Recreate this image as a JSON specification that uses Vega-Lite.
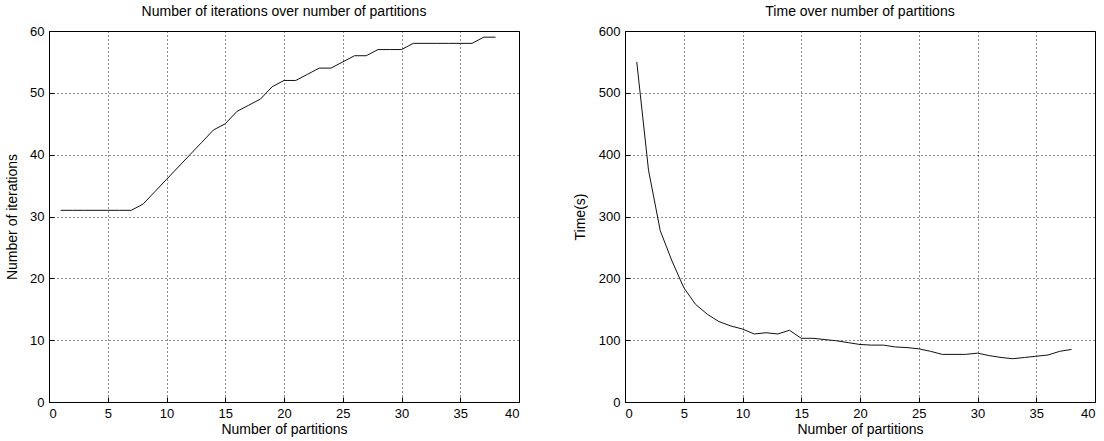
{
  "$schema": "https://vega.github.io/schema/vega-lite/v6.json",
  "background": "white",
  "padding": {"left": 5, "top": 4, "right": 5, "bottom": 5},
  "spacing": 52,
  "config": {
    "font": "Liberation Sans",
    "view": {"stroke": "black", "strokeWidth": 1},
    "axis": {
      "grid": true,
      "gridColor": "black",
      "gridDash": [1, 3],
      "gridOpacity": 0.9,
      "domain": false,
      "ticks": true,
      "tickColor": "black",
      "tickSize": -5,
      "labelPadding": 10,
      "labelFontSize": 13,
      "labelColor": "black",
      "titleFontSize": 14,
      "titleFontWeight": "normal",
      "titleColor": "black"
    },
    "title": {"fontSize": 14, "fontWeight": "normal", "offset": 6, "color": "black"}
  },
  "datasets": {
    "iters": [
      {"p": 1, "v": 31}, {"p": 2, "v": 31}, {"p": 3, "v": 31}, {"p": 4, "v": 31}, {"p": 5, "v": 31},
      {"p": 6, "v": 31}, {"p": 7, "v": 31}, {"p": 8, "v": 32}, {"p": 9, "v": 34}, {"p": 10, "v": 36},
      {"p": 11, "v": 38}, {"p": 12, "v": 40}, {"p": 13, "v": 42}, {"p": 14, "v": 44}, {"p": 15, "v": 45},
      {"p": 16, "v": 47}, {"p": 17, "v": 48}, {"p": 18, "v": 49}, {"p": 19, "v": 51}, {"p": 20, "v": 52},
      {"p": 21, "v": 52}, {"p": 22, "v": 53}, {"p": 23, "v": 54}, {"p": 24, "v": 54}, {"p": 25, "v": 55},
      {"p": 26, "v": 56}, {"p": 27, "v": 56}, {"p": 28, "v": 57}, {"p": 29, "v": 57}, {"p": 30, "v": 57},
      {"p": 31, "v": 58}, {"p": 32, "v": 58}, {"p": 33, "v": 58}, {"p": 34, "v": 58}, {"p": 35, "v": 58},
      {"p": 36, "v": 58}, {"p": 37, "v": 59}, {"p": 38, "v": 59}
    ],
    "time": [
      {"p": 1, "v": 550}, {"p": 2, "v": 375}, {"p": 3, "v": 277}, {"p": 4, "v": 228}, {"p": 5, "v": 185},
      {"p": 6, "v": 158}, {"p": 7, "v": 142}, {"p": 8, "v": 130}, {"p": 9, "v": 123}, {"p": 10, "v": 118},
      {"p": 11, "v": 110}, {"p": 12, "v": 112}, {"p": 13, "v": 110}, {"p": 14, "v": 116}, {"p": 15, "v": 103},
      {"p": 16, "v": 103}, {"p": 17, "v": 101}, {"p": 18, "v": 99}, {"p": 19, "v": 96}, {"p": 20, "v": 93},
      {"p": 21, "v": 92}, {"p": 22, "v": 92}, {"p": 23, "v": 89}, {"p": 24, "v": 88}, {"p": 25, "v": 86},
      {"p": 26, "v": 82}, {"p": 27, "v": 77}, {"p": 28, "v": 77}, {"p": 29, "v": 77}, {"p": 30, "v": 79},
      {"p": 31, "v": 75}, {"p": 32, "v": 72}, {"p": 33, "v": 70}, {"p": 34, "v": 72}, {"p": 35, "v": 74},
      {"p": 36, "v": 76}, {"p": 37, "v": 82}, {"p": 38, "v": 85}
    ]
  },
  "hconcat": [
    {
      "title": "Number of iterations over number of partitions",
      "width": 470,
      "height": 371,
      "data": {"name": "iters"},
      "mark": {"type": "line", "color": "#111", "strokeWidth": 1},
      "encoding": {
        "x": {"field": "p", "type": "quantitative", "title": "Number of partitions",
              "scale": {"domain": [0, 40], "nice": false},
              "axis": {"values": [0, 5, 10, 15, 20, 25, 30, 35, 40], "titlePadding": 2}},
        "y": {"field": "v", "type": "quantitative", "title": "Number of iterations",
              "scale": {"domain": [0, 60], "nice": false},
              "axis": {"values": [0, 10, 20, 30, 40, 50, 60], "titlePadding": 10}}
      }
    },
    {
      "title": "Time over number of partitions",
      "width": 470,
      "height": 371,
      "data": {"name": "time"},
      "mark": {"type": "line", "color": "#111", "strokeWidth": 1},
      "encoding": {
        "x": {"field": "p", "type": "quantitative", "title": "Number of partitions",
              "scale": {"domain": [0, 40], "nice": false},
              "axis": {"values": [0, 5, 10, 15, 20, 25, 30, 35, 40], "titlePadding": 2}},
        "y": {"field": "v", "type": "quantitative", "title": "Time(s)",
              "scale": {"domain": [0, 600], "nice": false},
              "axis": {"values": [0, 100, 200, 300, 400, 500, 600], "titlePadding": 11}}
      }
    }
  ]
}
